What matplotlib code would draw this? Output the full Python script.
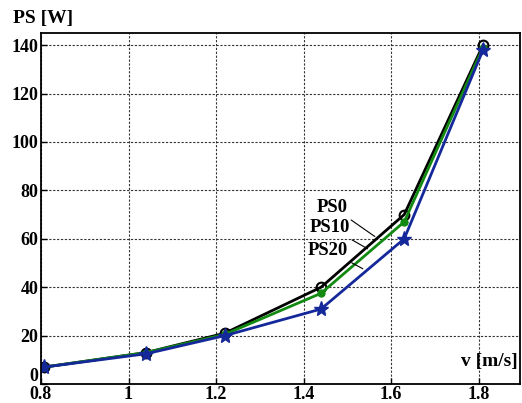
import matplotlib.pyplot as plt
from matplotlib.ticker import FixedLocator
from matplotlib.transforms import ScaledTranslation

# data
v = [0.807, 1.04, 1.22, 1.44, 1.63, 1.81]
ps0 = [7, 13, 21, 40, 70, 140]
ps10 = [7, 13, 20.5, 37.5, 67, 139]
ps20 = [7, 12.5, 20, 31, 60, 138]

xticks = [0.8, 1, 1.2, 1.4, 1.6, 1.8]
xticklabels = ['0.8', '1', '1.2', '1.4', '1.6', '1.8']
yticks = [0, 20, 40, 60, 80, 100, 120, 140]

plt.rcParams['font.family'] = 'Liberation Serif'
plt.rcParams['font.weight'] = 'bold'

fig = plt.figure(figsize=(5.22, 4.03), dpi=100)
ax = fig.add_axes([0.0785, 0.047, 0.918, 0.871])

ax.plot(v, ps0, color='black', lw=2, marker='o', ms=7, mfc='none', mew=1.5, label='PS0')
ax.plot(v, ps10, color='#128a12', lw=2, marker='o', ms=5, mfc='#128a12', label='PS10')
ax.plot(v, ps20, color='#15289a', lw=2, marker='*', ms=11, label='PS20')

ax.set_xlim(0.8, 1.895)
ax.set_ylim(0, 145)
ax.xaxis.set_major_locator(FixedLocator(xticks))
ax.set_xticklabels(xticklabels)
ax.set_yticks(yticks)
ax.tick_params(direction='in', labelsize=13, length=4, width=1)
ax.tick_params(axis='x', pad=1.5)
ax.tick_params(axis='y', pad=2)
ax.grid(True, color='#333333', linestyle=(0, (2, 1.5)), linewidth=0.8)
for s in ax.spines.values():
    s.set_linewidth(1.3)

# the "0" sits a little higher, as in the original
fig.canvas.draw()
zero = ax.get_yticklabels()[0]
zero.set_transform(zero.get_transform() + ScaledTranslation(0, 7 / 72, fig.dpi_scale_trans))

# labels with leader lines
ax.annotate('PS0', xy=(1.568, 60.3), xytext=(1.502, 73.1), fontsize=13.5, fontweight='bold',
            ha='right', va='center', arrowprops=dict(arrowstyle='-', color='black', lw=0.8))
ax.annotate('PS10', xy=(1.552, 55.3), xytext=(1.506, 64.8), fontsize=13.5, fontweight='bold',
            ha='right', va='center', arrowprops=dict(arrowstyle='-', color='black', lw=0.8))
ax.annotate('PS20', xy=(1.541, 47.1), xytext=(1.502, 55.3), fontsize=13.5, fontweight='bold',
            ha='right', va='center', arrowprops=dict(arrowstyle='-', color='black', lw=0.8))

fig.text(0.025, 0.955, 'PS [W]', fontsize=14, fontweight='bold', ha='left', va='center')
ax.text(0.995, 0.065, 'v [m/s]', transform=ax.transAxes, fontsize=14, fontweight='bold',
        ha='right', va='center')

fig.savefig('out.png', dpi=100)
